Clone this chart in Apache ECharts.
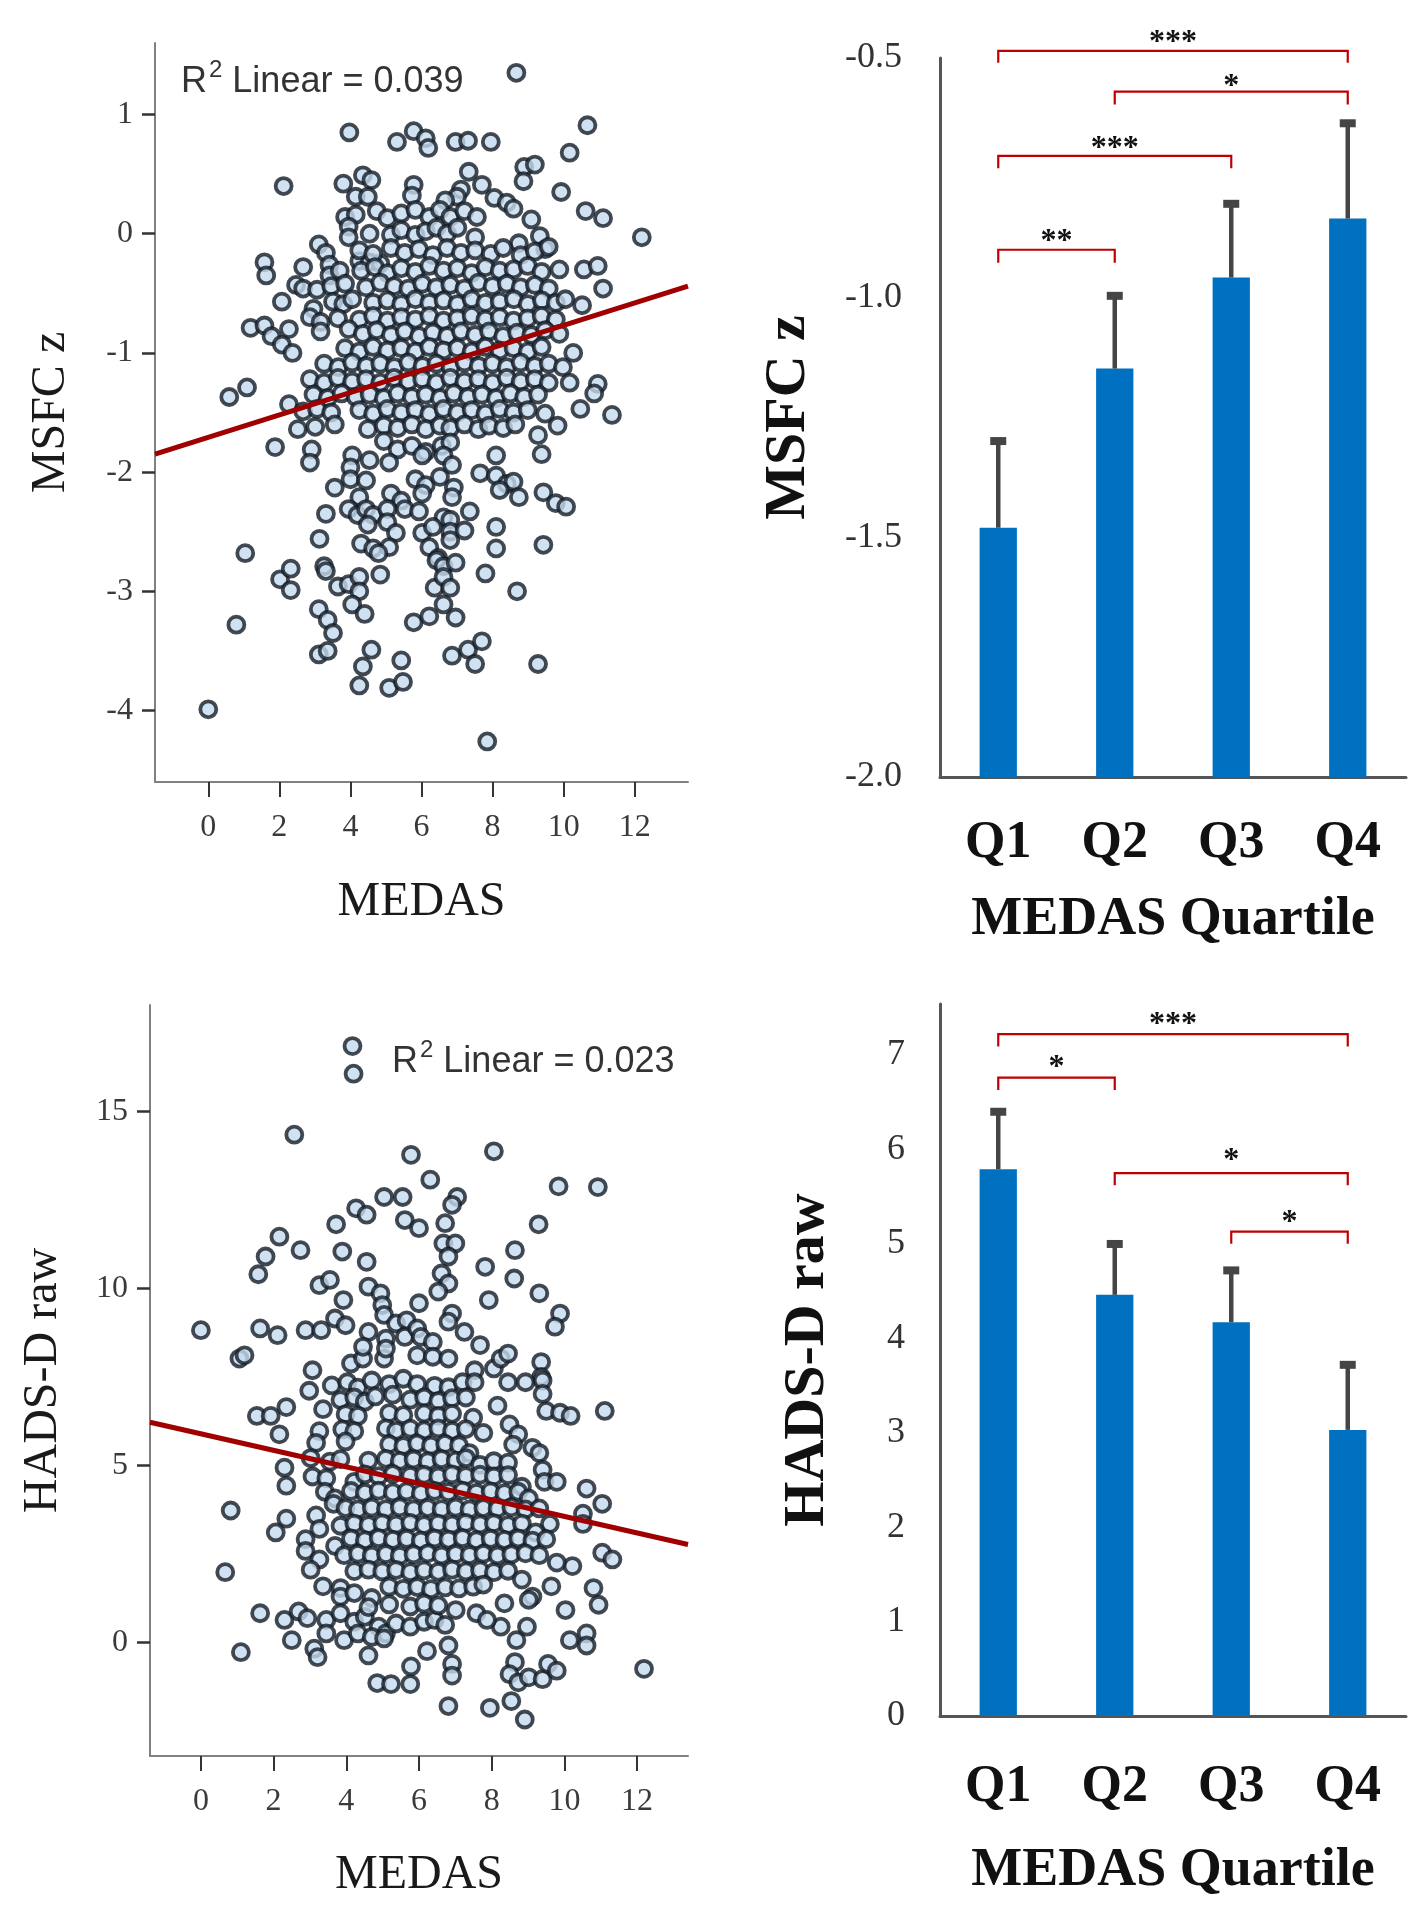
<!DOCTYPE html>
<html>
<head>
<meta charset="utf-8">
<script src="https://cdn.jsdelivr.net/npm/echarts@6/dist/echarts.min.js"></script>
<style>
  html, body { margin: 0; padding: 0; background: #ffffff; }
  #chart { width: 1426px; height: 1920px; }
</style>
</head>
<body>
<div id="chart"></div>
<script>
// ---------------- DATA ----------------
// Panel A: MEDAS (x) vs MSFC z (y)
const scatterA = [
  [8.67,1.35],[3.97,0.85],[5.31,0.77],[5.78,0.86],[6.12,0.80],[6.19,0.72],[6.96,0.77],[7.31,0.78],[7.95,0.77],
  [10.67,0.91],[10.17,0.68],[9.93,0.35],[8.89,0.56],[9.19,0.58],[8.87,0.44],[2.12,0.40],[10.62,0.19],[11.11,0.13],
  [12.2,-0.03],[7.33,0.52],[7.70,0.41],[3.80,0.42],[4.35,0.49],[4.59,0.45],[5.78,0.41],[4.15,0.31],[4.49,0.31],
  [5.73,0.32],[7.11,0.37],[7.0,0.31],[8.05,0.30],[8.40,0.26],[8.59,0.21],[9.09,0.12],[6.67,0.28],[3.85,0.14],
  [4.15,0.16],[4.74,0.19],[5.04,0.13],[5.43,0.17],[5.83,0.20],[6.22,0.14],[6.52,0.20],[6.81,0.14],[7.21,0.19],
  [7.56,0.14],[3.95,0.06],[3.95,-0.03],[4.54,0.0],[5.14,-0.01],[5.43,0.03],[5.83,-0.01],[6.12,0.02],[6.42,0.05],
  [6.72,0.0],[7.01,0.05],[7.51,-0.03],[8.74,-0.08],[9.33,-0.02],[9.48,-0.13],[3.11,-0.09],[3.31,-0.16],[1.58,-0.24],
  [1.63,-0.35],[2.67,-0.28],[3.41,-0.26],[3.41,-0.35],[3.70,-0.31],[4.25,-0.23],[4.54,-0.24],[4.84,-0.25],
  [4.25,-0.14],[4.64,-0.17],[5.14,-0.12],[5.53,-0.16],[5.93,-0.13],[6.32,-0.18],[6.72,-0.12],[7.11,-0.16],[7.51,-0.14],
  [7.95,-0.17],[8.30,-0.12],[8.79,-0.18],[9.19,-0.15],[9.58,-0.11],
  [4.30,-0.31],[4.69,-0.28],[5.04,-0.33],[5.43,-0.29],[5.83,-0.32],[6.22,-0.27],[6.62,-0.31],[7.01,-0.29],[7.41,-0.33],
  [7.80,-0.28],[8.20,-0.31],[8.59,-0.30],[8.99,-0.27],[9.38,-0.32],[9.88,-0.30],[10.57,-0.30],[10.96,-0.27],[11.11,-0.46],
  [2.07,-0.57],[2.47,-0.43],[2.67,-0.46],[3.06,-0.47],[3.46,-0.44],[3.85,-0.42],[4.44,-0.45],[4.84,-0.41],[5.23,-0.44],
  [5.63,-0.46],[6.02,-0.42],[6.42,-0.45],[6.81,-0.43],[7.21,-0.46],[7.60,-0.41],[8.00,-0.44],[8.40,-0.42],[8.79,-0.45],
  [9.19,-0.43],[9.58,-0.46],
  [2.96,-0.63],[3.51,-0.57],[3.80,-0.59],[4.05,-0.55],[4.64,-0.58],[5.04,-0.56],[5.43,-0.59],[5.83,-0.55],[6.22,-0.58],
  [6.62,-0.56],[7.01,-0.59],[7.41,-0.55],[7.80,-0.58],[8.20,-0.57],[8.60,-0.55],[8.99,-0.59],[9.39,-0.56],[9.78,-0.58],
  [10.05,-0.55],[10.52,-0.60],
  [2.86,-0.70],[3.16,-0.74],[3.65,-0.71],[4.25,-0.72],[4.64,-0.69],[5.04,-0.73],[5.43,-0.70],[5.83,-0.72],[6.22,-0.69],
  [6.62,-0.73],[7.01,-0.71],[7.41,-0.69],[7.80,-0.72],[8.20,-0.70],[8.59,-0.73],[8.99,-0.71],[9.38,-0.69],[9.78,-0.72],
  [1.19,-0.79],[1.58,-0.77],[2.27,-0.80],[1.78,-0.86],[3.16,-0.82],[3.95,-0.80],[4.35,-0.84],[4.74,-0.81],[5.14,-0.85],
  [5.53,-0.82],[5.93,-0.86],[6.32,-0.83],[6.72,-0.86],[7.11,-0.82],[7.51,-0.85],[7.90,-0.82],[8.30,-0.86],[8.69,-0.83],
  [9.09,-0.85],[9.48,-0.81],[9.88,-0.84],
  [2.07,-0.93],[2.37,-1.0],[3.85,-0.96],[4.25,-0.99],[4.64,-0.95],[5.04,-0.98],[5.43,-0.96],[5.83,-0.99],[6.22,-0.95],
  [6.62,-0.98],[7.01,-0.96],[7.41,-0.99],[7.80,-0.95],[8.20,-0.98],[8.59,-0.96],[8.99,-0.99],[9.38,-0.95],[10.27,-1.0],
  [3.26,-1.09],[3.66,-1.12],[4.05,-1.08],[4.45,-1.11],[4.84,-1.09],[5.24,-1.12],[5.63,-1.08],[6.03,-1.11],[6.42,-1.09],
  [6.82,-1.12],[7.21,-1.08],[7.61,-1.11],[8.00,-1.09],[8.40,-1.12],[8.79,-1.08],[9.19,-1.11],[9.58,-1.09],[9.98,-1.12],
  [2.86,-1.22],[3.26,-1.25],[3.65,-1.21],[4.05,-1.24],[4.44,-1.22],[4.84,-1.25],[5.23,-1.21],[5.63,-1.24],[6.02,-1.22],
  [6.42,-1.25],[6.81,-1.21],[7.21,-1.24],[7.60,-1.22],[8.00,-1.25],[8.40,-1.21],[8.79,-1.24],[9.19,-1.22],[9.58,-1.25],
  [10.17,-1.25],[10.96,-1.26],
  [0.59,-1.37],[1.09,-1.29],[2.96,-1.35],[3.36,-1.38],[3.75,-1.34],[4.15,-1.37],[4.54,-1.35],[4.94,-1.38],[5.33,-1.34],
  [5.73,-1.37],[6.12,-1.35],[6.52,-1.38],[6.91,-1.34],[7.31,-1.37],[7.70,-1.35],[8.10,-1.38],[8.50,-1.34],[8.89,-1.37],
  [9.28,-1.35],[10.86,-1.34],
  [2.27,-1.43],[2.67,-1.49],[3.06,-1.47],[3.46,-1.50],[4.25,-1.48],[4.64,-1.51],[5.04,-1.47],[5.43,-1.50],[5.83,-1.48],
  [6.22,-1.51],[6.62,-1.47],[7.01,-1.50],[7.41,-1.48],[7.80,-1.51],[8.20,-1.47],[8.59,-1.50],[8.99,-1.48],[9.48,-1.51],
  [10.47,-1.47],[11.36,-1.52],
  [2.52,-1.64],[3.01,-1.62],[3.56,-1.60],[4.49,-1.64],[4.94,-1.61],[5.33,-1.63],[5.73,-1.60],[6.12,-1.64],[6.52,-1.61],
  [6.81,-1.63],[7.21,-1.60],[7.60,-1.64],[7.90,-1.61],[8.30,-1.63],[8.64,-1.60],[9.28,-1.69],[9.83,-1.61],
  [1.88,-1.79],[2.91,-1.81],[4.94,-1.74],[5.33,-1.81],[5.73,-1.78],[6.12,-1.83],[6.57,-1.78],[6.81,-1.75],
  [2.86,-1.92],[4.05,-1.86],[4.54,-1.90],[5.09,-1.92],[6.02,-1.86],[6.62,-1.86],[8.10,-1.86],[9.38,-1.85],
  [4.00,-1.96],[4.00,-2.06],[4.44,-2.07],[5.83,-2.06],[6.12,-2.11],[6.52,-2.04],[6.86,-1.94],[7.65,-2.01],[8.10,-2.03],
  [8.40,-2.10],[8.59,-2.08],
  [3.56,-2.13],[4.25,-2.21],[5.14,-2.18],[5.43,-2.24],[6.02,-2.18],[6.91,-2.13],[6.86,-2.21],[8.20,-2.15],[8.74,-2.21],
  [9.43,-2.17],[9.78,-2.26],[10.07,-2.29],
  [3.31,-2.35],[3.95,-2.31],[4.20,-2.36],[4.44,-2.31],[4.64,-2.36],[5.04,-2.31],[5.53,-2.31],[5.93,-2.33],[6.62,-2.38],
  [6.81,-2.40],[7.36,-2.33],
  [4.49,-2.44],[5.04,-2.42],[5.28,-2.51],[6.02,-2.51],[6.32,-2.46],[6.81,-2.50],[6.81,-2.57],[7.21,-2.49],[8.10,-2.46],
  [3.13,-2.56],[4.30,-2.60],[4.64,-2.64],[5.09,-2.63],[6.22,-2.63],[6.47,-2.72],[8.10,-2.64],[9.43,-2.61],
  [4.79,-2.68],[6.42,-2.74],[6.62,-2.79],[6.96,-2.76],[1.04,-2.68],
  [2.02,-2.90],[2.32,-2.81],[2.32,-2.99],[3.26,-2.79],[3.31,-2.83],[3.65,-2.96],[3.95,-2.94],[4.25,-2.88],[4.25,-3.0],
  [4.84,-2.86],[6.37,-2.97],[6.62,-2.88],[6.81,-2.97],[7.80,-2.85],
  [8.69,-3.0],[0.79,-3.28],[3.11,-3.15],[3.36,-3.24],[3.51,-3.35],[4.05,-3.11],[4.40,-3.19],[5.78,-3.26],[6.22,-3.21],
  [6.62,-3.11],[6.96,-3.22],
  [3.11,-3.53],[3.36,-3.50],[4.59,-3.49],[4.35,-3.63],[5.43,-3.58],[6.86,-3.54],[7.31,-3.49],[7.51,-3.61],[7.70,-3.42],
  [9.28,-3.61],[4.25,-3.79],[5.09,-3.81],[5.48,-3.76],
  [0.0,-3.99],[7.85,-4.26]
];
const regLineA = [[-1.5,-1.85],[13.5,-0.44]];
const r2ValueA = '0.039';

// Panel C: MEDAS (x) vs HADS-D raw (y)
const scatterC = [
  [4.17,16.84],[4.20,16.06],[2.57,14.34],[5.78,13.77],[8.06,13.87],[6.31,13.07],[9.84,12.88],[10.92,12.86],
  [5.04,12.58],[5.55,12.58],[7.05,12.58],[6.91,12.36],[4.27,12.26],[4.56,12.08],[3.72,11.81],[5.61,11.93],
  [6.0,11.70],[6.72,11.84],[9.29,11.81],[2.16,11.46],[2.74,11.08],[3.89,11.04],[4.56,10.75],[1.78,10.90],
  [1.58,10.40],[6.67,11.27],[7.0,11.27],[6.81,10.90],[8.64,11.08],[7.82,10.61],[8.62,10.28],[6.62,10.42],
  [6.81,10.14],[6.53,9.91],[3.26,10.09],[3.55,10.24],[4.61,10.05],[4.94,9.86],[9.31,9.86],[3.92,9.67],
  [7.92,9.67],[6.0,9.58],[9.88,9.29],[9.74,8.92],[0.0,8.82],[1.63,8.87],[2.11,8.68],[2.88,8.82],[3.31,8.82],
  [3.69,9.15],[3.98,8.96],[4.99,9.53],[5.04,9.25],[6.91,9.29],[6.81,9.06],[7.25,8.77],[4.61,8.77],[5.09,8.58],
  [5.37,9.01],[5.66,9.10],[5.61,8.63],[5.95,8.87],[6.05,8.63],[6.38,8.49],[5.04,8.02],[5.09,8.30],[5.95,8.11],
  [6.38,8.07],[6.81,8.02],[7.53,7.69],[8.06,7.74],[8.25,8.02],[8.45,8.16],[9.36,7.92],[9.36,7.50],[7.68,8.40],
  [1.06,8.02],[1.20,8.11],[3.07,7.69],[4.13,7.88],[4.46,8.02],[4.46,8.35],
  [1.54,6.40],[1.92,6.40],[2.35,6.65],[2.16,5.88],[2.98,7.11],[3.36,6.59],[3.26,5.97],[3.17,5.64],[2.30,4.94],
  [2.35,4.43],[0.82,3.73],[2.35,3.50],[2.06,3.11],[0.67,1.99],[1.63,0.83],[1.10,-0.27],[2.30,0.64],[2.69,0.88],
  [2.93,0.69],[2.50,0.07],[3.12,-0.17],[3.21,-0.41],[4.61,-0.36],[4.85,-1.14],[5.23,-1.17],[5.76,-1.17],[5.78,-0.67],
  [6.22,-0.24],[6.81,-0.08],[6.91,-0.60],[6.91,-0.93],[6.81,-1.79],[7.95,-1.84],[8.54,-1.65],[8.91,-2.17],[8.35,1.11],
  [8.25,0.45],[8.68,0.07],[8.64,-0.55],[8.49,-0.89],[8.73,-1.12],[9.02,-0.98],[9.40,-1.03],[9.55,-0.60],[9.79,-0.79],
  [8.97,0.45],[10.03,0.92],[10.15,0.07],[10.61,0.26],[10.61,-0.08],[10.80,1.54],[10.94,1.07],[10.22,2.16],[11.04,2.54],
  [11.32,2.35],[10.51,3.64],[10.51,3.35],[11.04,3.92],[10.61,4.35],[12.19,-0.74],[11.11,6.54],[9.50,6.54],[9.88,6.49],
  [10.17,6.40],[8.16,6.69],[8.45,7.35],[8.93,7.35],[9.40,7.40],[9.40,7.02],[7.77,5.92],[8.49,6.16],[8.73,5.88],
  [8.59,5.59],[9.12,5.50],[9.31,5.35],[9.40,4.88],[9.45,4.54],[9.79,4.54],
  [3.60,7.26],[4.03,7.35],[4.32,7.20],[4.70,7.40],[5.18,7.30],[5.57,7.45],[5.95,7.30],[6.43,7.25],[6.81,7.21],
  [7.20,7.35],[7.53,7.35],
  [3.84,6.85],[4.22,6.92],[4.51,6.80],[4.80,6.95],[5.28,7.0],[5.76,6.86],[6.14,6.92],[6.53,6.82],[6.91,6.90],[7.29,6.92],
  [3.98,6.45],[4.32,6.40],[5.18,6.48],[5.57,6.42],[6.14,6.47],[6.53,6.40],[6.91,6.46],[7.49,6.35],
  [3.89,6.02],[4.22,5.97],[5.09,6.05],[5.37,5.98],[5.76,6.04],[6.14,5.99],[6.53,6.05],[6.91,5.98],[7.29,6.03],
  [3.98,5.68],[5.18,5.60],[5.57,5.55],[5.95,5.62],[6.33,5.56],[6.72,5.61],[7.10,5.57],[7.39,5.35],
  [3.02,5.21],[3.55,5.11],[3.84,5.18],[4.61,5.14],[5.09,5.19],[5.47,5.13],[5.85,5.17],[6.24,5.12],[6.62,5.18],
  [7.01,5.14],[7.29,5.21],[7.68,5.02],[8.06,5.12],[8.45,5.08],
  [3.07,4.69],[3.45,4.64],[4.22,4.54],[4.51,4.75],[4.89,4.70],[5.28,4.76],[5.76,4.71],[6.14,4.74],[6.53,4.69],
  [6.91,4.75],[7.29,4.70],[7.68,4.74],[8.06,4.69],[8.45,4.73],[8.83,4.40],
  [3.41,4.26],[3.69,4.07],[4.13,4.28],[4.51,4.23],[4.89,4.29],[5.28,4.24],[5.66,4.27],[6.05,4.22],[6.43,4.28],
  [6.81,4.25],[7.20,4.29],[7.58,4.23],[7.97,4.27],[8.35,4.22],[8.73,4.26],[9.02,4.07],
  [3.65,3.92],[3.98,3.80],[4.32,3.76],[4.70,3.81],[5.09,3.77],[5.47,3.82],[5.85,3.76],[6.24,3.80],[6.62,3.77],
  [7.01,3.81],[7.39,3.76],[7.77,3.80],[8.16,3.78],[8.54,3.82],[8.93,3.76],[9.31,3.79],[9.60,3.35],
  [3.17,3.59],[3.26,3.21],[3.84,3.30],[4.22,3.36],[4.61,3.32],[4.99,3.37],[5.37,3.33],[5.76,3.38],[6.14,3.32],
  [6.53,3.36],[6.91,3.33],[7.29,3.38],[7.68,3.34],[8.06,3.37],[8.45,3.32],[8.83,3.36],[9.21,3.11],
  [2.88,2.92],[3.69,2.73],[4.13,2.94],[4.51,2.89],[4.89,2.95],[5.28,2.90],[5.66,2.93],[6.05,2.88],[6.43,2.94],
  [6.81,2.91],[7.20,2.95],[7.58,2.89],[7.97,2.93],[8.35,2.90],[8.73,2.94],[9.12,2.88],[9.50,2.92],
  [2.88,2.59],[3.26,2.35],[3.94,2.47],[4.32,2.51],[4.70,2.46],[5.09,2.50],[5.47,2.45],[5.85,2.49],[6.24,2.52],
  [6.62,2.46],[7.01,2.50],[7.39,2.47],[7.77,2.51],[8.16,2.46],[8.54,2.49],[8.93,2.52],[9.31,2.47],[9.79,2.26],
  [3.02,2.06],[3.36,1.59],[3.84,1.54],[4.22,2.02],[4.61,2.06],[4.99,2.01],[5.37,2.05],[5.76,1.99],[6.14,2.04],
  [6.53,2.00],[6.91,2.06],[7.29,2.01],[7.68,2.04],[8.06,1.99],[8.45,2.03],[8.83,1.78],[9.12,1.30],[9.64,1.59],
  [3.84,1.30],[4.22,1.40],[4.70,1.26],[5.18,1.58],[5.57,1.52],[5.95,1.57],[6.33,1.51],[6.72,1.56],[7.10,1.53],
  [7.49,1.58],[7.77,1.64],[9.02,1.21],
  [3.45,0.64],[3.84,0.83],[4.22,0.59],[4.51,0.73],[4.89,0.45],[5.09,0.26],[5.37,0.54],[5.76,0.45],[6.14,0.59],
  [6.43,0.64],[6.72,0.50],[7.01,0.92],[7.58,0.83],[7.87,0.64],[5.76,1.02],[6.14,1.10],[6.53,1.05],[4.61,1.0],[5.18,1.08],
  [3.45,0.26],[3.94,0.07],[4.32,0.26],[4.70,0.16],[5.04,0.12]
];
const regLineC = [[-1.4,6.22],[13.4,2.77]];
const r2ValueC = '0.023';

// Bar panels
const quartiles = ['Q1','Q2','Q3','Q4'];
const msfcMean   = [-1.48, -1.148, -0.958, -0.835];
const msfcErrTop = [-1.295, -0.992, -0.800, -0.632];
const hadsMean   = [5.79, 4.46, 4.17, 3.03];
const hadsErrTop = [6.42, 5.02, 4.74, 3.74];

// significance brackets: [fromIndex, toIndex, lineValue, tickEndValue, starValue, label]
const bracketsB = [
  [0, 3, -0.485, -0.510, -0.452, '***'],
  [1, 3, -0.570, -0.597, -0.543, '*'],
  [0, 2, -0.704, -0.730, -0.672, '***'],
  [0, 1, -0.900, -0.927, -0.866, '**']
];
const bracketsD = [
  [0, 3, 7.22, 7.09, 7.41, '***'],
  [0, 1, 6.76, 6.63, 6.95, '*'],
  [1, 3, 5.75, 5.62, 5.96, '*'],
  [2, 3, 5.13, 5.00, 5.31, '*']
];

// tick labels
const xTicksScatter = [0, 2, 4, 6, 8, 10, 12];
const yTicksA = [-4, -3, -2, -1, 0, 1];
const yTicksC = [0, 5, 10, 15];
const yTicksB = [-2.0, -1.5, -1.0, -0.5];
const yTicksD = [0, 1, 2, 3, 4, 5, 6, 7];

// ---------------- CHART ----------------
const SERIF = '"Liberation Serif","Times New Roman",Times,serif';
const SANS = '"Liberation Sans",Arial,sans-serif';

function scatterXAxis(gridIndex, min, max, nameGap) {
  return {
    gridIndex, type: 'value', min, max,
    axisLine: { show: true, onZero: false, lineStyle: { color: '#808080', width: 2 } },
    axisTick: { show: true, length: 15, customValues: xTicksScatter, lineStyle: { color: '#333', width: 2 } },
    axisLabel: { customValues: xTicksScatter, margin: 30, fontSize: 32, color: '#3a3a3a', fontFamily: SERIF },
    splitLine: { show: false },
    name: 'MEDAS', nameLocation: 'middle', nameGap,
    nameTextStyle: { fontSize: 48, color: '#1a1a1a', fontFamily: SERIF }
  };
}
function scatterYAxis(gridIndex, min, max, ticks, name, nameGap) {
  return {
    gridIndex, type: 'value', min, max,
    axisLine: { show: true, onZero: false, lineStyle: { color: '#808080', width: 2 } },
    axisTick: { show: true, length: 13, customValues: ticks, lineStyle: { color: '#333', width: 2.5 } },
    axisLabel: { customValues: ticks, margin: 22, fontSize: 32, color: '#3a3a3a', fontFamily: SERIF },
    splitLine: { show: false },
    name, nameLocation: 'middle', nameGap, nameRotate: 90,
    nameTextStyle: { fontSize: 48, color: '#1a1a1a', fontFamily: SERIF }
  };
}
function barXAxis(gridIndex, labelMargin, nameGap) {
  return {
    gridIndex, type: 'category', data: quartiles, boundaryGap: true,
    axisLine: { show: true, onZero: false, lineStyle: { color: '#555555', width: 3 } },
    axisTick: { show: false },
    axisLabel: { margin: labelMargin, fontSize: 52, fontWeight: 'bold', color: '#111', fontFamily: SERIF },
    splitLine: { show: false },
    name: 'MEDAS Quartile', nameLocation: 'middle', nameGap,
    nameTextStyle: { fontSize: 54, fontWeight: 'bold', color: '#111', fontFamily: SERIF }
  };
}
function barYAxis(gridIndex, min, max, ticks, fmt, name, nameGap, labelMargin) {
  return {
    gridIndex, type: 'value', min, max,
    axisLine: { show: true, onZero: false, lineStyle: { color: '#555555', width: 3 } },
    axisTick: { show: false },
    axisLabel: { customValues: ticks, formatter: fmt, margin: labelMargin, fontSize: 36, color: '#333', fontFamily: SERIF },
    splitLine: { show: false },
    name, nameLocation: 'middle', nameGap, nameRotate: 90,
    nameTextStyle: { fontSize: 58, fontWeight: 'bold', color: '#111', fontFamily: SERIF }
  };
}

function makeBarRenderer(base) {
  return function (params, api) {
    const i = api.value(0);
    const pBase = api.coord([i, base]);
    const pTop = api.coord([i, api.value(1)]);
    const pErr = api.coord([i, api.value(2)]);
    const w = api.size([1, 0])[0] * 0.32;
    return {
      type: 'group',
      children: [
        { type: 'rect', shape: { x: pTop[0] - w / 2, y: pTop[1], width: w, height: pBase[1] - pTop[1] },
          style: { fill: '#0070c0' } },
        { type: 'line', shape: { x1: pTop[0], y1: pTop[1], x2: pErr[0], y2: pErr[1] },
          style: { stroke: '#454545', lineWidth: 4.5 } },
        { type: 'rect', shape: { x: pErr[0] - 8, y: pErr[1] - 2, width: 16, height: 8 },
          style: { fill: '#454545' } }
      ]
    };
  };
}
function makeBracketRenderer(list) {
  return function (params, api) {
    const b = list[params.dataIndex];
    const a1 = api.coord([b[0], b[2]]), a2 = api.coord([b[1], b[2]]);
    const t1 = api.coord([b[0], b[3]]), t2 = api.coord([b[1], b[3]]);
    const s = api.coord([b[0], b[4]]);
    return {
      type: 'group',
      children: [
        { type: 'polyline', shape: { points: [t1, a1, a2, t2] },
          style: { stroke: '#c00000', lineWidth: 2.2, fill: null } },
        { type: 'text', x: (a1[0] + a2[0]) / 2, y: s[1] + 8,
          style: { text: b[5], align: 'center', verticalAlign: 'middle',
                   font: 'bold 32px ' + SERIF, fill: '#111' } }
      ]
    };
  };
}

const scatterStyle = { color: '#c4daee', borderColor: '#141d27', borderWidth: 3.8 };

function r2Text(value) {
  return {
    text: '{m|R}{s|2}{m| Linear = ' + value + '}',
    rich: {
      m: { fontSize: 36, fontFamily: SANS, fill: '#333', color: '#333', lineHeight: 42, verticalAlign: 'bottom' },
      s: { fontSize: 24, fontFamily: SANS, fill: '#333', color: '#333', lineHeight: 42, verticalAlign: 'top', padding: [0, 0, 0, 2] }
    }
  };
}

const option = {
  animation: false,
  backgroundColor: '#ffffff',
  grid: [
    { left: 155, top: 43, width: 533, height: 739, containLabel: false, outerBoundsMode: 'none' },
    { left: 940, top: 58, width: 466, height: 719, containLabel: false, outerBoundsMode: 'none' },
    { left: 150, top: 1005, width: 538, height: 751, containLabel: false, outerBoundsMode: 'none' },
    { left: 940, top: 1004, width: 466, height: 712, containLabel: false, outerBoundsMode: 'none' }
  ],
  xAxis: [
    scatterXAxis(0, -1.5, 13.5, 96),
    barXAxis(1, 41, 116),
    scatterXAxis(2, -1.4, 13.4, 95),
    barXAxis(3, 46, 128)
  ],
  yAxis: [
    scatterYAxis(0, -4.6, 1.6, yTicksA, 'MSFC z', 80),
    barYAxis(1, -2.0, -0.5, yTicksB, v => Number(v).toFixed(1), 'MSFC z', 122, 38),
    scatterYAxis(2, -3.2, 18, yTicksC, 'HADS-D raw', 83),
    barYAxis(3, 0, 7.54, yTicksD, v => String(v), 'HADS-D raw', 103, 35)
  ],
  series: [
    { type: 'scatter', xAxisIndex: 0, yAxisIndex: 0, data: scatterA, symbol: 'circle', symbolSize: 16,
      itemStyle: scatterStyle, z: 2 },
    { type: 'line', xAxisIndex: 0, yAxisIndex: 0, data: regLineA, showSymbol: false, symbol: 'none',
      lineStyle: { color: '#a00000', width: 5 }, z: 3 },
    { type: 'scatter', xAxisIndex: 2, yAxisIndex: 2, data: scatterC, symbol: 'circle', symbolSize: 16,
      itemStyle: scatterStyle, z: 2 },
    { type: 'line', xAxisIndex: 2, yAxisIndex: 2, data: regLineC, showSymbol: false, symbol: 'none',
      lineStyle: { color: '#a00000', width: 5 }, z: 3 },
    { type: 'custom', xAxisIndex: 1, yAxisIndex: 1, clip: false,
      data: quartiles.map((q, i) => [i, msfcMean[i], msfcErrTop[i]]),
      encode: { x: 0, y: 1 }, renderItem: makeBarRenderer(-2.0), z: 2 },
    { type: 'custom', xAxisIndex: 1, yAxisIndex: 1, clip: false,
      data: bracketsB.map(b => [b[0], b[2]]), encode: { x: 0, y: 1 },
      renderItem: makeBracketRenderer(bracketsB), z: 3 },
    { type: 'custom', xAxisIndex: 3, yAxisIndex: 3, clip: false,
      data: quartiles.map((q, i) => [i, hadsMean[i], hadsErrTop[i]]),
      encode: { x: 0, y: 1 }, renderItem: makeBarRenderer(0), z: 2 },
    { type: 'custom', xAxisIndex: 3, yAxisIndex: 3, clip: false,
      data: bracketsD.map(b => [b[0], b[2]]), encode: { x: 0, y: 1 },
      renderItem: makeBracketRenderer(bracketsD), z: 3 }
  ],
  graphic: [
    { type: 'text', left: 181, top: 58, z: 10, style: r2Text(r2ValueA) },
    { type: 'text', left: 392, top: 1038, z: 10, style: r2Text(r2ValueC) }
  ]
};

const chart = echarts.init(document.getElementById('chart'), null, { renderer: 'canvas', width: 1426, height: 1920 });
chart.setOption(option);
</script>
</body>
</html>
